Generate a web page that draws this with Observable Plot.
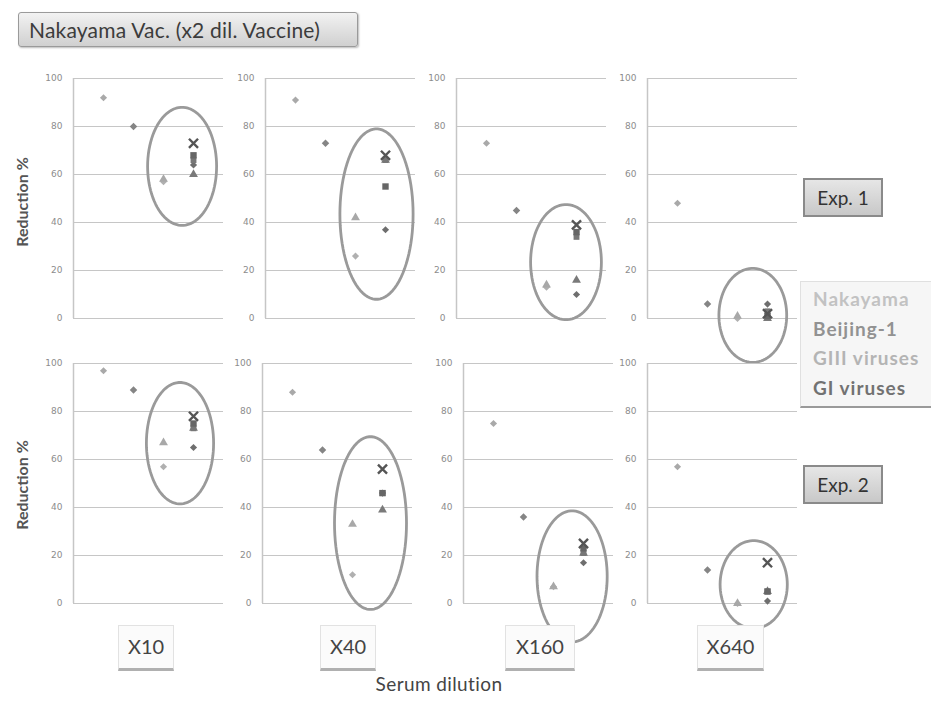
<!DOCTYPE html>
<html><head><meta charset="utf-8">
<script src="https://cdn.jsdelivr.net/npm/d3@7"></script>
<script src="https://cdn.jsdelivr.net/npm/@observablehq/plot@0.6"></script>
<style>
body{margin:0;background:#fff;font-family:Lato,"Open Sans",sans-serif;}
#root{position:relative;width:931px;height:702px;overflow:hidden;background:#fff;}
.abs{position:absolute;}
.title{left:18px;top:12px;width:340px;height:35px;box-sizing:border-box;border:1px solid #9a9a9a;border-radius:3px;
  background:linear-gradient(#f2f2f2,#d0d0d0);color:#3c3c3c;font-size:21px;line-height:33px;padding-left:10px;box-shadow:1px 1px 2px #bbb;letter-spacing:0.2px;}
.exp{width:80px;height:39px;box-sizing:border-box;border:2px solid #8a8a8a;background:linear-gradient(#e6e6e6,#c8c8c8);
  color:#333;font-size:19px;line-height:35px;text-align:center;}
.xl{height:46px;box-sizing:border-box;border:1px solid #e2e2e2;border-bottom:3px solid #b0b0b0;background:#fbfbfb;
  color:#444;font-size:20px;line-height:40px;text-align:center;}
.legend{left:800px;top:281px;width:140px;height:127px;box-sizing:border-box;border:1px solid #e0e0e0;border-bottom:2px solid #9a9a9a;
  background:#f6f6f6;padding:2px 0 0 12px;font-weight:bold;font-size:19px;letter-spacing:1px;line-height:29.5px;white-space:nowrap;}
.ylab{font-weight:bold;font-size:16px;color:#555;transform:translate(-50%,-50%) rotate(-90deg);white-space:nowrap;}
</style></head><body><div id="root"></div><script>
// ---- data ----
const dilutions = ["X10", "X40", "X160", "X640"];
const experiments = ["Exp. 1", "Exp. 2"];
const groups = ["Nakayama", "Beijing-1", "GIII viruses", "GI viruses"];
const yTicks = [0, 20, 40, 60, 80, 100];
// values[experiment][dilution]
const nakayama     = [[92, 91, 73, 48], [97, 88, 75, 57]];
const beijing1     = [[80, 73, 45, 6],  [89, 64, 36, 14]];
const giiiTriangle = [[58, 42, 14, 1],  [67, 33, 7, 0]];
const giiiDiamond  = [[57, 26, 13, 0],  [57, 12, 7, 0]];
const giX          = [[73, 68, 39, 2],  [78, 56, 25, 17]];
const giSquare     = [[68, 55, 36, 1],  [75, 46, 23, 5]];
const giSquare2    = [[66, 66, 34, 3],  [73, 46, 21, 5]];
const giTriangle   = [[60, 66, 16, 0],  [73, 39, 21, 5]];
const giDiamond    = [[64, 37, 10, 6],  [65, 46, 17, 1]];
// highlight ellipses around GIII + GI viruses: [centerX, centerY, halfWidth, halfHeight] in data units
const ellipses = [
  [[3.62, 63.4, 1.15, 24.6], [3.70, 43.5, 1.22, 35.5], [3.65, 23.5, 1.18, 24.0], [3.51, 1.3, 1.13, 19.6]],
  [[3.55, 66.8, 1.12, 25.3], [3.60, 33.5, 1.20, 36.0], [3.62, 11.3, 1.17, 27.3], [3.54, 7.9, 1.12, 18.3]]
];
const legendColors = ["#c2c2c2", "#929292", "#b4b4b4", "#727272"];

const series = [
  {group: "Nakayama", values: nakayama, symbol: "diamond2", color: "#a9a9a9", r: 3.2},
  {group: "Beijing-1", values: beijing1, symbol: "diamond2", color: "#858585", r: 3.4},
  {group: "GIII viruses", values: giiiDiamond, symbol: "diamond2", color: "#b0b0b0", r: 3.2},
  {group: "GIII viruses", values: giiiTriangle, symbol: "triangle", color: "#a8a8a8", r: 3.3},
  {group: "GI viruses", values: giTriangle, symbol: "triangle", color: "#7a7a7a", r: 3.3},
  {group: "GI viruses", values: giDiamond, symbol: "diamond2", color: "#6e6e6e", r: 3.2},
  {group: "GI viruses", values: giSquare2, symbol: "square", color: "#777", r: 3.3},
  {group: "GI viruses", values: giSquare, symbol: "square", color: "#666", r: 3.6},
  {group: "GI viruses", values: giX, symbol: "times", color: "#555", r: 4.2}
];

// ---- layout ----
const root = document.getElementById("root");
const rowTop = [78, 363];
const panelLeft = [[73, 265, 456, 647], [73, 262, 463, 647]];
const ML = 45, MT = 10, PW = 150, PH = 240;

function el(cls, text, css) {
  const d = document.createElement("div");
  d.className = "abs " + cls;
  d.textContent = text;
  Object.assign(d.style, css);
  root.appendChild(d);
  return d;
}

experiments.forEach((exp, e) => {
  dilutions.forEach((dil, di) => {
    const pts = series.map(s => ({...s, x: groups.indexOf(s.group) + 1, y: s.values[e][di]}));
    const [cx, cy, rx, ry] = ellipses[e][di];
    const ell = d3.range(0, 361, 4).map(a => ({x: cx + rx * Math.cos(a * Math.PI / 180), y: cy + ry * Math.sin(a * Math.PI / 180)}));
    const marks = [
      Plot.ruleY(yTicks, {stroke: "#c6c6c6", strokeWidth: 1}),
      Plot.ruleX([0], {stroke: "#c6c6c6", strokeWidth: 1.5}),
      Plot.line(ell, {x: "x", y: "y", stroke: "#9a9a9a", strokeWidth: 2.8, curve: "linear"})
    ];
    pts.forEach(p => {
      if (p.symbol === "times") {
        marks.push(Plot.dot([p], {x: "x", y: "y", symbol: "times", stroke: p.color, strokeWidth: 2.4, fill: "none", r: p.r}));
      } else {
        marks.push(Plot.dot([p], {x: "x", y: "y", symbol: p.symbol, fill: p.color, stroke: "none", r: p.r}));
      }
    });
    const chart = Plot.plot({
      width: ML + PW + 5, height: MT + PH + 10,
      marginLeft: ML, marginRight: 5, marginTop: MT, marginBottom: 10,
      x: {domain: [0, 5], axis: null},
      y: {domain: [0, 100], ticks: yTicks, tickSize: 0, tickPadding: 11, label: null},
      style: {background: "transparent", overflow: "visible", fontSize: "9px", color: "#8c8c8c", fontFamily: "DejaVu Sans"},
      marks
    });
    chart.style.position = "absolute";
    chart.style.left = (panelLeft[e][di] - ML) + "px";
    chart.style.top = (rowTop[e] - MT) + "px";
    chart.style.overflow = "visible";
    root.appendChild(chart);
  });
});

// title
el("title", "Nakayama Vac. (x2 dil. Vaccine)", {});
// y labels
el("ylab", "Reduction %", {left: "21px", top: "202px"});
el("ylab", "Reduction %", {left: "21px", top: "485px"});
// experiment boxes
el("exp", experiments[0], {left: "803px", top: "178px"});
el("exp", experiments[1], {left: "803px", top: "465px"});
// legend
const lg = el("legend", "", {});
groups.forEach((g, i) => {
  const s = document.createElement("div");
  s.textContent = g;
  s.style.color = legendColors[i];
  lg.appendChild(s);
});
// x category labels
const xlPos = [[118, 56], [320, 56], [505, 70], [697, 67]];
dilutions.forEach((d, i) => el("xl", d, {left: xlPos[i][0] + "px", top: "625px", width: xlPos[i][1] + "px"}));
el("", "Serum dilution", {left: "439px", top: "683px", transform: "translate(-50%,-50%)", fontSize: "19px", letterSpacing: "0.4px", color: "#444", whiteSpace: "nowrap"});
</script></body></html>
